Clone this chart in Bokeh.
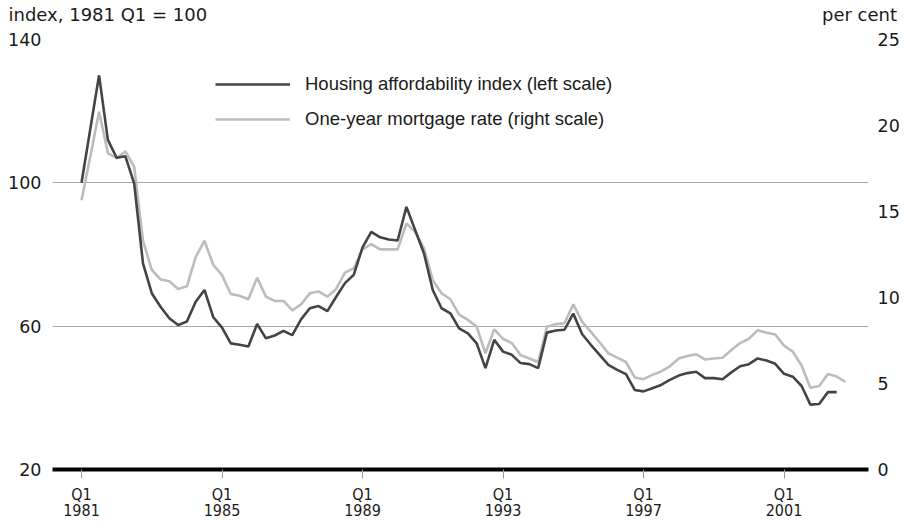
from bokeh.plotting import figure
from bokeh.models import Range1d, LinearAxis, FixedTicker, Legend, LegendItem
from bokeh.embed import file_html
from bokeh.resources import INLINE

# ---- data ----
start_year = 1981
affordability = [100, 115, 130, 112, 107, 107.4, 99.8, 77.5, 69.2, 65.4,
                 62.2, 60.3, 61.3, 66.8, 70.1, 62.5, 59.6, 55.2, 54.8, 54.3,
                 60.6, 56.6, 57.4, 58.7, 57.5, 61.9, 65.0, 65.6, 64.2, 68.2,
                 72.0, 74.3, 82.0, 86.3, 84.8, 84.2, 83.9, 93.3, 86.8, 80.3,
                 70.1, 65.0, 63.6, 59.4, 58.0, 55.2, 48.3, 56.2, 52.9, 52.0,
                 49.7, 49.4, 48.3, 58.2, 58.8, 59.0, 63.5, 57.8, 54.8, 52.0,
                 49.2, 47.8, 46.6, 42.2, 41.8, 42.7, 43.6, 45.0, 46.2, 46.9,
                 47.3, 45.5, 45.5, 45.2, 47.1, 48.8, 49.4, 51.0, 50.4, 49.5,
                 46.7, 45.9, 43.3, 38.1, 38.3, 41.6, 41.6]
mortgage_rate = [15.65, 18.2, 20.8, 18.4, 18.1, 18.5, 17.6, 13.3, 11.6, 11.05,
                 10.95, 10.5, 10.65, 12.35, 13.3, 11.9, 11.3, 10.2, 10.1, 9.9,
                 11.15, 10.05, 9.8, 9.8, 9.25, 9.6, 10.25, 10.35, 10.05, 10.5,
                 11.45, 11.7, 12.8, 13.1, 12.8, 12.8, 12.8, 14.3, 13.8, 12.85,
                 11.0, 10.25, 9.9, 9.0, 8.7, 8.3, 6.75, 8.15, 7.6, 7.35,
                 6.65, 6.45, 6.25, 8.3, 8.45, 8.5, 9.6, 8.6, 8.0, 7.4,
                 6.75, 6.5, 6.25, 5.35, 5.25, 5.5, 5.7, 6.0, 6.45, 6.6,
                 6.7, 6.4, 6.45, 6.5, 6.95, 7.35, 7.6, 8.1, 7.95, 7.85,
                 7.2, 6.85, 6.05, 4.75, 4.85, 5.55, 5.4, 5.1]
tick_years = [1981, 1985, 1989, 1993, 1997, 2001]
tick_labels = ["Q1\n%d" % y for y in tick_years]
left_ticks = [20, 60, 100, 140]
right_ticks = [0, 5, 10, 15, 20, 25]
series_names = ["Housing affordability index (left scale)",
                "One-year mortgage rate (right scale)"]
left_title = "index, 1981 Q1 = 100"
right_title = "per cent"

x_aff = [start_year + i / 4 for i in range(len(affordability))]
x_rate = [start_year + i / 4 for i in range(len(mortgage_rate))]

# ---- layout ----
W, H = 907, 523
BL, BR, BT, BB = 52, 39, 39, 54
FW, FH = W - BL - BR, H - BT - BB
x0, x1 = 1980.174, 2003.405

NUMFONT = "DejaVu Sans"
LEGFONT = "Liberation Sans"
TXT = "#1a1a1a"

p = figure(width=W, height=H, output_backend="svg", toolbar_location=None,
           x_range=Range1d(x0, x1), y_range=Range1d(20, 140),
           min_border_left=BL, min_border_right=BR, min_border_top=BT,
           min_border_bottom=BB, background_fill_color="white",
           border_fill_color="white")
p.outline_line_color = None
p.extra_y_ranges = {"rate": Range1d(0, 25)}

# grid
p.xgrid.visible = False
p.ygrid.ticker = FixedTicker(ticks=[t for t in left_ticks if t != 20])
p.ygrid.grid_line_color = "#a6a6a6"
p.ygrid.grid_line_width = 1

# left axis
ya = p.yaxis[0]
ya.ticker = FixedTicker(ticks=left_ticks)
ya.axis_line_color = None
ya.major_tick_line_color = None
ya.minor_tick_line_color = None
ya.major_tick_out = 0
ya.minor_tick_out = 0
ya.major_label_standoff = 11
ya.major_label_text_font = NUMFONT
ya.major_label_text_font_size = "17.5px"
ya.major_label_text_color = TXT

# right axis
ra = LinearAxis(y_range_name="rate", ticker=FixedTicker(ticks=right_ticks))
ra.axis_line_color = None
ra.major_tick_line_color = None
ra.minor_tick_line_color = None
ra.major_tick_out = 0
ra.minor_tick_out = 0
ra.major_label_standoff = 9
ra.major_label_text_font = NUMFONT
ra.major_label_text_font_size = "17.5px"
ra.major_label_text_color = TXT
p.add_layout(ra, "right")

# bottom axis
xa = p.xaxis[0]
xa.ticker = FixedTicker(ticks=tick_years)
xa.major_label_overrides = {y: l for y, l in zip(tick_years, tick_labels)}
xa.axis_line_color = "black"
xa.axis_line_width = 4
xa.major_tick_line_color = "#999999"
xa.major_tick_in = 0
xa.major_tick_out = 9
xa.minor_tick_line_color = None
xa.minor_tick_out = 0
xa.major_label_standoff = 6
xa.major_label_text_font = "DejaVu Sans Condensed, Liberation Sans"
xa.major_label_text_font_size = "16px"
xa.major_label_text_line_height = 0.87
xa.major_label_text_color = TXT

# top axis carrying the two unit captions (left and right scale units)
px_per_year = FW / (x1 - x0)
t_left = 1981.75                                  # caption centre, left unit
t_right = round(x0 + (859 - BL) / px_per_year, 2)  # caption centre, right unit
ta = LinearAxis(ticker=FixedTicker(ticks=[t_left, t_right]))
ta.major_label_overrides = {t_left: left_title, t_right: right_title}
ta.axis_line_color = None
ta.major_tick_line_color = None
ta.minor_tick_line_color = None
ta.major_tick_out = 0
ta.minor_tick_out = 0
ta.major_label_standoff = 15
ta.major_label_text_font = NUMFONT
ta.major_label_text_font_size = "18px"
ta.major_label_text_color = TXT
p.add_layout(ta, "above")

# lines
r_rate = p.line(x_rate, mortgage_rate, color="#bcbcbc", line_width=2.6,
                y_range_name="rate")
r_aff = p.line(x_aff, affordability, color="#444444", line_width=2.6)

legend = Legend(items=[LegendItem(label=series_names[0], renderers=[r_aff]),
                       LegendItem(label=series_names[1], renderers=[r_rate])],
                location=(163, FH - 91), border_line_alpha=0,
                background_fill_alpha=0, glyph_width=75, glyph_height=20,
                label_height=20, label_standoff=15, spacing=13, padding=0,
                margin=0, label_text_font=LEGFONT, label_text_font_size="18.5px",
                label_text_color=TXT)
p.add_layout(legend)

open("out.html", "w").write(file_html(p, INLINE))
